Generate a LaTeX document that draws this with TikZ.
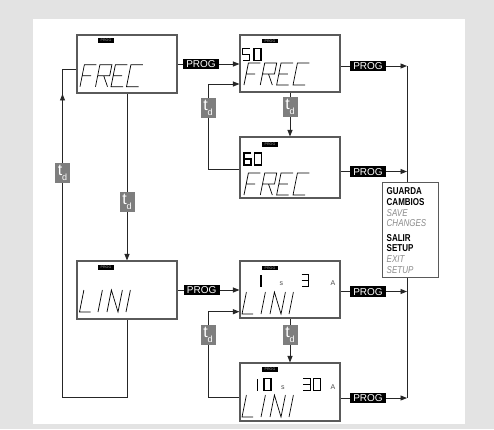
\documentclass[tikz,border=0pt]{standalone}
\usepackage{fontspec}
\setmainfont{Liberation Sans}
\newfontfamily\condfont{Liberation Sans}[FakeStretch=0.8]
\usetikzlibrary{arrows.meta,decorations.markings}
\pgfdeclarelayer{back}\pgfdeclarelayer{bg}
\pgfsetlayers{back,bg,main}
\definecolor{pagegray}{HTML}{E3E3E3}
\definecolor{boxgray}{HTML}{5A5A5A}
\definecolor{tdgray}{HTML}{7E7E7E}
\definecolor{txtgray}{HTML}{8C8C8C}
\tikzset{
  disp/.style={draw=boxgray, line width=1.1pt, fill=white, inner sep=0pt},
  conn/.style={draw=black!85, line width=0.9pt},
  tip/.style={-{Triangle[length=6.5pt,width=5pt]}},
  prog/.style={fill=black, text=white, font=\fontsize{10}{10}\selectfont,
    inner xsep=3.2pt, inner ysep=1.6pt, text height=7.2pt, text depth=0pt},
  tdbox/.style={fill=tdgray, text=white, minimum width=15pt, minimum height=20pt,
    inner sep=0pt, font=\fontsize{16}{16}\selectfont},
  tag/.style={fill=black, text=black!35, font=\fontsize{3.6}{3.6}\selectfont,
    minimum width=16.5pt, minimum height=4.6pt, inner sep=0pt},
  unit/.style={text=black!70, font=\fontsize{7}{7}\selectfont, inner sep=0pt, anchor=base west},
  savebold/.style={font=\condfont\bfseries\fontsize{10}{10}\selectfont, text=black, inner sep=0pt, anchor=base west},
  saveital/.style={font=\condfont\itshape\fontsize{10}{10}\selectfont, text=txtgray, inner sep=0pt, anchor=base west},
  segl/.style={line width=0.7pt, line join=miter},
  dgs/.style={line width=1.5pt, line join=miter},
  gF/.pic={\draw[segl,xslant=0.2] (0,0)--(0,-22)--(12,-22) (0,-11)--(9,-11);},
  gR/.pic={\draw[segl,xslant=0.2] (0,0)--(0,-22)--(12,-22)--(12,-11)--(0,-11) (6,-11)--(12,0);},
  gE/.pic={\draw[segl,xslant=0.2] (12,0)--(0,0)--(0,-22)--(12,-22) (0,-11)--(9,-11);},
  gC/.pic={\draw[segl,xslant=0.2] (12,0)--(0,0)--(0,-22)--(12,-22);},
  gL/.pic={\draw[segl,xslant=0.2] (0,-22)--(0,0)--(11,0);},
  gI/.pic={\draw[segl,xslant=0.2] (0,0)--(0,-22);},
  gN/.pic={\draw[segl,xslant=0.2] (0,0)--(0,-22)--(11,0)--(11,-22);},
  dzero/.pic={\draw[dgs] (0,0) rectangle (7,-12);},
  done/.pic={\draw[dgs] (7,0)--(7,-12);},
  dfive/.pic={\draw[dgs] (7,-12)--(0,-12)--(0,-6)--(7,-6)--(7,0)--(0,0);},
  dsix/.pic={\draw[dgs] (7,-12)--(0,-12)--(0,0)--(7,0)--(7,-6)--(0,-6);},
  dthree/.pic={\draw[dgs] (0,-12)--(7,-12)--(7,0)--(0,0) (0,-6)--(7,-6);},
}
\begin{document}
\begin{tikzpicture}[x=1pt,y=-1pt]
\useasboundingbox (0,0) rectangle (494,429);
\begin{pgfonlayer}{back}
  \fill[pagegray] (0,0) rectangle (494,429);
  \fill[white] (33,19) rectangle (465,424);
\end{pgfonlayer}

% display boxes
\node[disp, minimum width=100pt, minimum height=58pt] (A) at (127,64) {};
\node[disp, minimum width=100pt, minimum height=57pt] (B) at (290,63.5) {};
\node[disp, minimum width=100pt, minimum height=61pt] (C) at (290,167.5) {};
\node[disp, minimum width=100pt, minimum height=58pt] (D) at (127,290) {};
\node[disp, minimum width=100pt, minimum height=57pt] (E) at (290,289.5) {};
\node[disp, minimum width=100pt, minimum height=58pt] (F) at (290,392) {};
\node[disp, draw=boxgray, line width=0.9pt, minimum width=56pt, minimum height=95pt] (S) at (410,229.5) {};

% save box text
\node[savebold] (s1) at (386.5,194) {GUARDA};
\node[savebold] (s2) at (386.5,205) {CAMBIOS};
\node[saveital] (s3) at (386.5,216) {SAVE};
\node[saveital] (s4) at (386.5,226.7) {CHANGES};
\node[savebold] (s5) at (386.5,241) {SALIR};
\node[savebold] (s6) at (386.5,251.7) {SETUP};
\node[saveital] (s7) at (386.5,262.3) {EXIT};
\node[saveital] (s8) at (386.5,273.3) {SETUP};

% small PROG tags
\node[tag] (gA) at (106,40.5) {PROG};
\node[tag] (gB) at (270,41) {PROG};
\node[tag] (gC) at (270,144.7) {PROG};
\node[tag] (gD) at (106,267.2) {PROG};
\node[tag] (gE) at (270,268) {PROG};
\node[tag] (gF) at (270,369.7) {PROG};

% digits
\pic at (242.7,60.7) {dfive};
\pic at (254.2,60.7) {dzero};
\pic at (244,165) {dsix};
\pic at (254.5,165) {dzero};
\pic at (254,286.7) {done};
\pic at (301.5,286.7) {dthree};
\pic at (250.3,390.7) {done};
\pic at (264.2,390.7) {dzero};
\pic at (303.3,390.7) {dthree};
\pic at (313.7,390.7) {dzero};
\node[unit] (u1) at (279.5,285.5) {s};
\node[unit] (u2) at (330.5,285.5) {A};
\node[unit] (u3) at (281,389.5) {s};
\node[unit] (u4) at (330.5,389.5) {A};

% FREC / LINI
\pic at (80,86.7) {gF};  \pic at (95.5,86.7) {gR};  \pic at (111,86.7) {gE};  \pic at (126.5,86.7) {gC};
\pic at (244,85) {gF};   \pic at (260.3,85) {gR};   \pic at (276.6,85) {gE};  \pic at (293,85) {gC};
\pic at (244,195) {gF};  \pic at (260.3,195) {gR};  \pic at (276.6,195) {gE}; \pic at (293,195) {gC};
\pic at (79.5,312) {gL}; \pic at (98,312) {gI};  \pic at (107,312) {gN}; \pic at (126,312) {gI};
\pic at (242,314) {gL};  \pic at (261,314) {gI}; \pic at (270,314) {gN}; \pic at (289,314) {gI};
\pic at (242,417) {gL};  \pic at (261,417) {gI}; \pic at (270,417) {gN}; \pic at (289,417) {gI};

% labels
\node[prog] (pA) at (201,64) {PROG};
\node[prog] (pB) at (368,66) {PROG};
\node[prog] (pC) at (368,171.5) {PROG};
\node[prog] (pD) at (201.7,290) {PROG};
\node[prog] (pE) at (368,291.5) {PROG};
\node[prog] (pF) at (368,398) {PROG};
\newcommand{\tdtext}{t\kern-0.2pt\raisebox{-4.5pt}{\fontsize{9}{9}\selectfont d}}
\node[tdbox] (tA) at (127,202) {\tdtext};
\node[tdbox] (tB) at (290,107) {\tdtext};
\node[tdbox] (tC) at (208,108) {\tdtext};
\node[tdbox] (tE) at (208,335) {\tdtext};
\node[tdbox] (tF) at (290,335) {\tdtext};
\node[tdbox] (tL) at (62.5,173) {\tdtext};

% bend coordinates
\coordinate (busT) at (407,66);
\coordinate (busB) at (407,398);
\coordinate (kC1) at (208,169);
\coordinate (kC2) at (208,84);
\coordinate (kF1) at (208,397.5);
\coordinate (kF2) at (208,311.7);
\coordinate (kD1) at (127,397);
\coordinate (kD2) at (62.5,397);
\coordinate (kD3) at (62.5,69);

\begin{pgfonlayer}{bg}
\draw[conn,tip] (A.east) -- (A.east -| B.west);
\draw[conn,tip] (D.east) -- (D.east -| E.west);
\draw[conn,tip] (B.east |- pB) -- (pB -| busT);
\draw[conn,tip] (C.east |- pC) -- (pC -| busT);
\draw[conn,tip] (E.east |- pE) -- (pE -| busT);
\draw[conn,tip] (F.east |- pF) -- (pF -| busT);
\draw[conn] (busT) -- (busB);
\draw[conn,tip] (A.south) -- (D.north);
\draw[conn,tip] (B.south) -- (C.north);
\draw[conn,tip] (E.south) -- (F.north);
\draw[conn,tip] (C.west |- kC1) -- (kC1) -- (kC2) -- (kC2 -| B.west);
\draw[conn,tip] (F.west |- kF1) -- (kF1) -- (kF2) -- (kF2 -| E.west);
\draw[conn, postaction={decorate}, decoration={markings,
   mark=at position 445pt with {\arrow{Triangle[length=6.5pt,width=5pt]}}}]
   (D.south) -- (kD1) -- (kD2) -- (kD3) -- (kD3 -| A.west);
\end{pgfonlayer}
\end{tikzpicture}
\end{document}
